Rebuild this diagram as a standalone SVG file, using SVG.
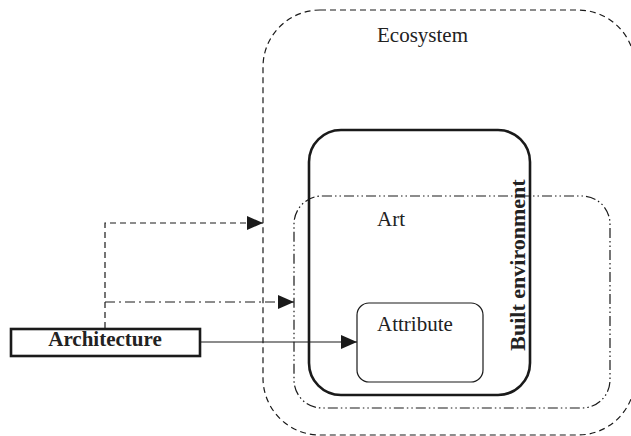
<svg xmlns="http://www.w3.org/2000/svg" width="631" height="436" viewBox="0 0 631 436">
  <style>
    .lbl { font-family: "Liberation Serif", "Times New Roman", serif; font-size: 21px; fill: #222; }
    .bold { font-weight: bold; }
    .big { font-size: 22px; }
    .thin { fill: none; stroke: #1a1a1a; stroke-width: 1.2; }
    .thick { fill: none; stroke: #1a1a1a; stroke-width: 2.6; }
    .dash { stroke-dasharray: 6 4; }
    .dashdot { stroke-dasharray: 10 4 2 4; }
    .dashdotdot { stroke-dasharray: 10 3 1.5 3 1.5 3; }
  </style>
  <defs>
    <marker id="arrow" markerUnits="userSpaceOnUse" markerWidth="16" markerHeight="16" viewBox="0 0 16 16" refX="16" refY="8" orient="auto">
      <path d="M0,1 L16,8 L0,15 Z" fill="#1a1a1a"/>
    </marker>
  </defs>

  <g id="ecosystem">
    <rect class="thin dash" x="263" y="10" width="372" height="425" rx="57"/>
    <text class="lbl" x="377" y="42">Ecosystem</text>
  </g>

  <g id="built-environment">
    <rect class="thick" x="309" y="130" width="221" height="265" rx="32"/>
    <text class="lbl bold big" transform="translate(525,265) rotate(-90)" text-anchor="middle">Built environment</text>
  </g>

  <g id="art">
    <rect class="thin dashdotdot" x="294" y="196" width="316" height="212" rx="28"/>
    <text class="lbl" x="377" y="226">Art</text>
  </g>

  <g id="attribute">
    <rect class="thin" x="357" y="303" width="126" height="79" rx="12"/>
    <text class="lbl" x="377" y="331">Attribute</text>
  </g>

  <g id="architecture">
    <rect class="thick" x="11" y="329" width="189" height="27" fill="#fff"/>
    <text class="lbl bold" x="105" y="346" text-anchor="middle">Architecture</text>
  </g>

  <g id="connectors">
    <path class="thin dash" d="M105,328 V223 H263" marker-end="url(#arrow)"/>
    <path class="thin dashdot" d="M105,302 H294" marker-end="url(#arrow)"/>
    <path class="thin" d="M201,342 H357" marker-end="url(#arrow)"/>
  </g>
</svg>
